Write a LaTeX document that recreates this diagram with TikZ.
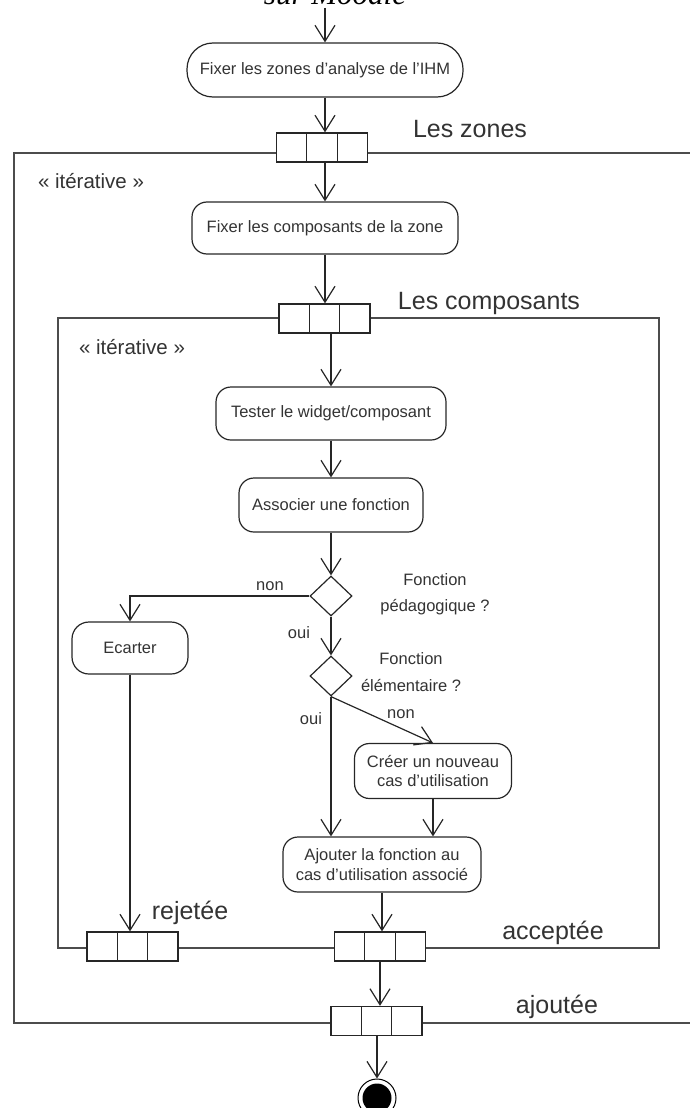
\documentclass[tikz,border=0pt]{standalone}
\usepackage{fontspec}
\setmainfont{Liberation Sans}
\newfontfamily\headfont{Liberation Serif}
\usetikzlibrary{arrows.meta,shapes.geometric,calc}

\begin{document}
\begin{tikzpicture}[x=1pt,y=-1pt,
  txt/.style={text=black!80, font=\fontsize{16.5}{19.5}\selectfont},
  bigtxt/.style={text=black!80, font=\fontsize{25}{30}\selectfont, inner sep=0pt, anchor=base},
  stereo/.style={text=black!80, font=\fontsize{20.5}{24}\selectfont, inner sep=0pt, anchor=base},
  guard/.style={txt, inner sep=0pt, anchor=base},
  act/.style={draw=black!85, line width=1.2pt, rounded corners=15pt, align=center,
    inner sep=0pt, txt},
  decision/.style={draw=black!85, line width=1.2pt, diamond, inner sep=0pt,
    minimum width=42pt, minimum height=40pt},
  pin/.style={draw=black!85, fill=white, line width=1.3pt, inner sep=0pt,
    minimum width=91pt, minimum height=29pt,
    path picture={
      \draw[black!85, line width=1.3pt]
        ($(path picture bounding box.north west)!1/3!(path picture bounding box.north east)$) --
        ($(path picture bounding box.south west)!1/3!(path picture bounding box.south east)$)
        ($(path picture bounding box.north west)!2/3!(path picture bounding box.north east)$) --
        ($(path picture bounding box.south west)!2/3!(path picture bounding box.south east)$);
    }},
  frame/.style={draw=black!70, line width=1.8pt},
  flow/.style={draw=black!85, line width=1.2pt, -{Straight Barb[length=16pt,width=20pt]}},
  line/.style={draw=black!85, line width=1.2pt},
  final/.style={draw=black, line width=1pt, circle, minimum size=38pt, inner sep=0pt,
    path picture={\fill[black] (path picture bounding box.center) circle (14.5pt);}}
]
\useasboundingbox (0,0) rectangle (690,1108);
\clip (0,0) rectangle (690,1108);

% heading of the page, partly above the drawing
\node[font=\headfont\itshape\fontsize{31}{36}\selectfont, inner sep=0pt, anchor=base]
  (title) at (335,5) {sur Moodle};

% expansion regions
\draw[frame] (700,153) -- (14,153) -- (14,1023) -- (700,1023);
\draw[frame] (58,318) rectangle (659,948);

% actions
\node[act, rounded corners=26pt, minimum width=276pt, minimum height=54pt]
  (zones) at (325,70) {Fixer les zones d’analyse de l’IHM};
\node[act, minimum width=266pt, minimum height=52pt]
  (comp) at (325,228) {Fixer les composants de la zone};
\node[act, minimum width=230pt, minimum height=53pt]
  (test) at (331,413.5) {Tester le widget/composant};
\node[act, minimum width=184pt, minimum height=54pt]
  (assoc) at (331,505) {Associer une fonction};
\node[decision] (dped) at (331,596) {};
\node[decision] (delem) at (331,676) {};
\node[act, rounded corners=17pt, minimum width=116pt, minimum height=52pt]
  (ecart) at (130,648) {Ecarter};
\node[act, minimum width=157pt, minimum height=55pt]
  (creer) at (433,771) {Créer un nouveau\\cas d’utilisation};
\node[act, minimum width=198pt, minimum height=55pt]
  (ajout) at (382,864.5) {Ajouter la fonction au\\cas d’utilisation associé};

% pins on the region borders
\node[pin] (pzones) at (322,147.5) {};
\node[pin] (pcomp) at (324.5,318.5) {};
\node[pin] (prej) at (132.5,946.5) {};
\node[pin] (pacc) at (380,946.5) {};
\node[pin] (pajout) at (376.5,1021) {};

% final node
\node[final] (fin) at (377,1098) {};

% labels
\node[bigtxt] (lzones) at (470,137) {Les zones};
\node[stereo] (iter1) at (91,188) {« itérative »};
\node[bigtxt] (lcomp) at (489,309) {Les composants};
\node[stereo] (iter2) at (132,354) {« itérative »};
\node[guard] (non1) at (270,590) {non};
\node[guard] (qped1) at (435,585) {Fonction};
\node[guard] (qped2) at (435,611) {pédagogique ?};
\node[guard] (oui1) at (299,638) {oui};
\node[guard] (qel1) at (411,664) {Fonction};
\node[guard] (qel2) at (411,691) {élémentaire ?};
\node[guard] (oui2) at (311,724) {oui};
\node[guard] (non2) at (401,718) {non};
\node[bigtxt] (lrej) at (190,919) {rejetée};
\node[bigtxt] (lacc) at (553,939) {acceptée};
\node[bigtxt] (lajout) at (557,1013) {ajoutée};

% control flow
\coordinate (entry) at (325,8);
\draw[flow] (entry) -- (entry |- zones.north);
\draw[flow] (zones.south) -- (zones.south |- pzones.north);
\draw[flow] (comp.north |- pzones.south) -- (comp.north);
\draw[flow] (comp.south) -- (comp.south |- pcomp.north);
\draw[flow] (test.north |- pcomp.south) -- (test.north);
\draw[flow] (test.south) -- (assoc.north);
\draw[flow] (assoc.south) -- (dped.north);
\draw[flow] (dped.west) -| (ecart.north);
\draw[flow] (dped.south) -- (delem.north);
\draw[flow] (delem.south) -- (delem.south |- ajout.north);
\draw[flow] (delem.south) -- (creer.north);
\draw[flow] (creer.south) -- (creer.south |- ajout.north);
\draw[flow] (ajout.south) -- (ajout.south |- pacc.north);
\draw[flow] (ecart.south) -- (ecart.south |- prej.north);
\draw[flow] (pacc.south) -- (pacc.south |- pajout.north);
\draw[flow] (fin.north |- pajout.south) -- (fin.north);
\end{tikzpicture}
\end{document}
